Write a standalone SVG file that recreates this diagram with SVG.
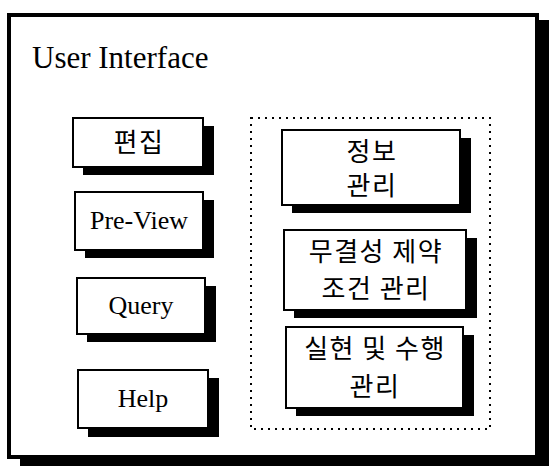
<svg xmlns="http://www.w3.org/2000/svg" width="553" height="468" viewBox="0 0 553 468">
<style>
.frame{fill:#fff;stroke:#000;stroke-width:2}
.shadow{fill:#000}
.en{font-family:"Liberation Serif","Times New Roman",serif;font-size:26px;fill:#000;text-anchor:middle}
.ko{font-family:"Noto Sans CJK KR","Noto Sans",sans-serif;font-size:26px;letter-spacing:1.5px;fill:#000;text-anchor:middle}
.title{font-family:"Liberation Serif","Times New Roman",serif;font-size:31px;fill:#000}
</style>
<rect width="553" height="468" fill="#fff"/>
<g id="ui">
<rect class="shadow" x="20" y="20" width="529" height="446"/>
<rect x="9" y="15" width="528" height="442" fill="#fff" stroke="#000" stroke-width="4"/>
<text class="title" x="32" y="68">User Interface</text>
</g>
<g id="group-right">
<rect x="251" y="118" width="239" height="311" fill="none" stroke="#000" stroke-width="2" stroke-dasharray="2,5"/>
</g>
<g id="edit">
<rect class="shadow" x="83" y="126" width="131" height="49"/>
<rect class="frame" x="73" y="118" width="130" height="49"/>
<text class="ko" x="139" y="152">편집</text>
</g>
<g id="preview">
<rect class="shadow" x="85" y="200" width="129" height="58"/>
<rect class="frame" x="75" y="192" width="128" height="58"/>
<text class="en" x="139" y="229">Pre-View</text>
</g>
<g id="query">
<rect class="shadow" x="87" y="286" width="129" height="56"/>
<rect class="frame" x="77" y="278" width="128" height="56"/>
<text class="en" x="141" y="314">Query</text>
</g>
<g id="help">
<rect class="shadow" x="88" y="378" width="131" height="59"/>
<rect class="frame" x="78" y="370" width="130" height="58"/>
<text class="en" x="143" y="407">Help</text>
</g>
<g id="info">
<rect class="shadow" x="292" y="138" width="179" height="75"/>
<rect class="frame" x="282" y="130" width="178" height="75"/>
<text class="ko" x="372" y="161">정보</text>
<text class="ko" x="372" y="195">관리</text>
</g>
<g id="integrity">
<rect class="shadow" x="294" y="238" width="183" height="80"/>
<rect class="frame" x="284" y="230" width="182" height="80"/>
<text class="ko" x="376" y="261">무결성 제약</text>
<text class="ko" x="376" y="298">조건 관리</text>
</g>
<g id="execution">
<rect class="shadow" x="296" y="335" width="178" height="81"/>
<rect class="frame" x="286" y="327" width="177" height="81"/>
<text class="ko" x="375" y="358">실현 및 수행</text>
<text class="ko" x="375" y="396">관리</text>
</g>
<g id="connectors"></g>
</svg>
